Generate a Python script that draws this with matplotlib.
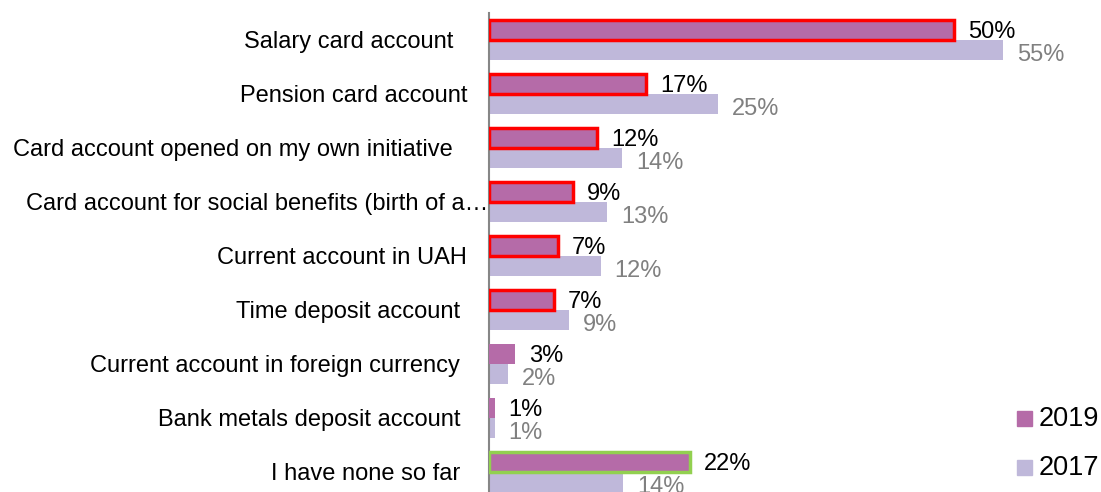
import matplotlib
matplotlib.use("Agg")
import matplotlib.pyplot as plt
import numpy as np
from matplotlib.patches import Rectangle

plt.rcParams['font.family'] = ['Liberation Sans', 'DejaVu Sans']

categories = [
    "Salary card account",
    "Pension card account",
    "Card account opened on my own initiative",
    "Card account for social benefits (birth of a\u2026",
    "Current account in UAH",
    "Time deposit account",
    "Current account in foreign currency",
    "Bank metals deposit account",
    "I have none so far",
]
v2019 = [50.0, 16.9, 11.6, 9.0, 7.4, 7.0, 2.8, 0.6, 21.6]
v2017 = [55.3, 24.6, 14.3, 12.7, 12.0, 8.6, 2.0, 0.6, 14.4]
edge2019 = ['#FF0000'] * 6 + ['none', 'none', '#92D050']
series_names = ['2019', '2017']

# gap (px) between each category label's right end and the axis line
label_gaps = [35, 21, 35, 0, 21, 28, 28, 28, 28]

c2019 = '#B56BA8'
c2017 = '#BFB8DA'

W, H = 1101, 492
fig = plt.figure(figsize=(W / 100, H / 100), dpi=100)
ax_w = 612
ax = fig.add_axes([489 / W, -7 / H, ax_w / W, 486 / H])

y = np.arange(len(categories))
bh = 0.37
off = 0.185
for i in range(len(categories)):
    ec = edge2019[i]
    ax.barh(y[i] - off, v2019[i], height=bh, color=c2019,
            edgecolor=(ec if ec != 'none' else c2019),
            linewidth=(2.5 if ec != 'none' else 0), zorder=3)
    ax.barh(y[i] + off, v2017[i], height=bh, color=c2017, linewidth=0, zorder=2)
    ax.annotate(f"{round(v2019[i])}%", (v2019[i], y[i] - off + 0.03),
                xytext=(10, 0), textcoords='offset points',
                va='center', ha='left', fontsize=17, color='black')
    ax.annotate(f"{round(v2017[i])}%", (v2017[i], y[i] + off + 0.09),
                xytext=(10, 0), textcoords='offset points',
                va='center', ha='left', fontsize=17, color='#808080')
    ax.text(-(label_gaps[i] + 1) / ax_w, y[i] + 0.04, categories[i],
            transform=ax.get_yaxis_transform(),
            ha='right', va='center', fontsize=17, color='black', clip_on=False)

ax.set_xlim(0, ax_w / 9.3)
ax.set_ylim(len(categories) - 0.5, -0.5)
ax.set_yticks([])
ax.set_xticks([])
for s in ['top', 'right', 'bottom']:
    ax.spines[s].set_visible(False)
ax.spines['left'].set_color('#868686')
ax.spines['left'].set_linewidth(1.5)

# legend drawn manually (figure pixel coordinates)
for name, col, yc in zip(series_names, [c2019, c2017], [418, 467]):
    fig.patches.append(Rectangle(((1017) / W, 1 - (yc + 7.5) / H), 15 / W, 15 / H,
                                 transform=fig.transFigure, color=col))
    fig.text(1039 / W, 1 - (yc + 1) / H, name, ha='left', va='center',
             fontsize=19.5, color='black')

fig.savefig('out.png', dpi=100)
